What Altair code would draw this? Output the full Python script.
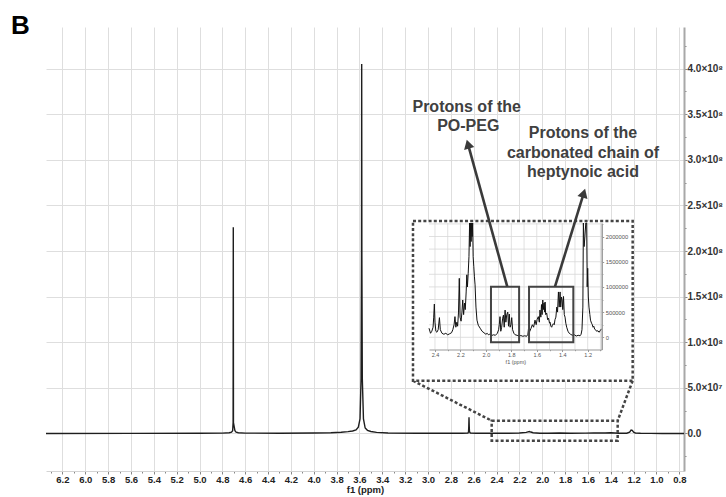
import altair as alt
import pandas as pd

# ---------------- data ----------------
main_ppm = [6.344, 5.60, 5.00, 4.80, 4.74, 4.72, 4.71, 4.706, 4.7055, 4.7045, 4.7035, 4.703, 4.69, 4.68,
            4.66, 4.60, 4.30, 4.00, 3.85, 3.76, 3.70, 3.66, 3.63, 3.61, 3.595, 3.586, 3.582, 3.5805,
            3.579, 3.575, 3.565, 3.55, 3.53, 3.50, 3.45, 3.35, 3.10, 2.80, 2.70, 2.650, 2.645, 2.643,
            2.641, 2.639, 2.637, 2.63, 2.58, 2.45, 2.30, 2.20, 2.14, 2.125, 2.113, 2.10, 2.08, 2.02,
            1.95, 1.85, 1.75, 1.62, 1.55, 1.45, 1.40, 1.33, 1.26, 1.235, 1.222, 1.212, 1.200, 1.185,
            1.14, 1.05, 0.95, 0.759]
main_int = [0, 1e5, 2e5, 4e5, 8e5, 1.5e6, 3e6, 1.2e7, 1.0e8, 2.26e8, 1.0e8, 1.2e7, 3e6, 1.5e6,
            8e5, 4e5, 3e5, 5e5, 9e5, 1.4e6, 2.0e6, 2.8e6, 4e6, 7e6, 1.6e7, 6e7, 2.0e8, 4.05e8,
            2.0e8, 6e7, 1.6e7, 6e6, 3.5e6, 2.2e6, 1.2e6, 6e5, 3e5, 2e5, 3e5, 6e5, 2e6, 8e6,
            1.78e7, 8e6, 2e6, 6e5, 3e5, 2e5, 3e5, 6e5, 1.2e6, 1.8e6, 2.2e6, 1.6e6, 8e5, 3e5,
            2e5, 5e5, 2e5, 4e5, 7e5, 5e5, 8e5, 2e5, 3e5, 1.5e6, 3.8e6, 3.5e6, 1.5e6, 6e5,
            3e5, 1e5, 0, 0]

inset_ppm = [2.447, 2.435, 2.425, 2.415, 2.41, 2.405, 2.400, 2.393, 2.385, 2.375, 2.365, 2.358, 2.345,
             2.33, 2.315, 2.30, 2.285, 2.27, 2.26, 2.25, 2.243, 2.236, 2.228, 2.222, 2.215, 2.209,
             2.203, 2.195, 2.188, 2.182, 2.175, 2.168, 2.162, 2.155, 2.150, 2.145, 2.139, 2.133,
             2.128, 2.124, 2.120, 2.116, 2.112, 2.108, 2.104, 2.100, 2.095, 2.09, 2.085, 2.078,
             2.07, 2.06, 2.045, 2.03, 2.015, 2.0, 1.99, 1.98, 1.97, 1.955, 1.94, 1.925, 1.91,
             1.90, 1.895, 1.889, 1.883, 1.876, 1.868, 1.862, 1.856, 1.849, 1.843, 1.836, 1.828,
             1.822, 1.816, 1.81, 1.803, 1.797, 1.79, 1.78, 1.77, 1.755, 1.74, 1.725, 1.71, 1.695,
             1.68, 1.67, 1.666, 1.655, 1.645, 1.635, 1.625, 1.614, 1.605, 1.597, 1.588, 1.58,
             1.575, 1.568, 1.563, 1.558, 1.553, 1.548, 1.543, 1.539, 1.535, 1.53, 1.522, 1.515,
             1.508, 1.5, 1.496, 1.489, 1.483, 1.477, 1.47, 1.463, 1.457, 1.45, 1.443, 1.437,
             1.43, 1.424, 1.417, 1.412, 1.406, 1.401, 1.396, 1.39, 1.384, 1.378, 1.372, 1.365,
             1.355, 1.345, 1.335, 1.32, 1.305, 1.29, 1.275, 1.26, 1.252, 1.245, 1.238, 1.234,
             1.228, 1.222, 1.215, 1.208, 1.204, 1.200, 1.195, 1.19, 1.183, 1.178, 1.17, 1.165,
             1.158, 1.152, 1.145, 1.138, 1.13, 1.12, 1.11, 1.10, 1.09]
inset_int = [1.8e5, 8e4, 1.2e5, 2e5, 4e5, 6.6e5, 3e5, 1.2e5, 1.0e5, 1.5e5, 3.9e5, 1.5e5, 8e4,
             6e4, 8e4, 5e4, 7e4, 9e4, 1.5e5, 2.5e5, 4.1e5, 2e5, 3e5, 2.2e5, 5e5, 1.17e6,
             4e5, 3.2e5, 5e5, 7.4e5, 4.5e5, 6.8e5, 5.5e5, 9e5, 1.24e6, 1.0e6, 1.27e6, 1.6e6,
             2.4e6, 1.8e6, 2.5e6, 1.9e6, 2.6e6, 2.0e6, 2.6e6, 1.6e6, 1.4e6, 1.2e6, 1.04e6, 6e5,
             3.4e5, 2.4e5, 1.8e5, 1.2e5, 9e4, 6e4, 8e4, 5e4, 6e4, 3.5e4, 5e4, 4e4, 8e4,
             1.5e5, 2.5e5, 4.1e5, 1.2e5, 2e5, 3.8e5, 4.4e5, 2e5, 5.4e5, 3e5, 4.5e5, 5.0e5,
             2.2e5, 4.6e5, 2e5, 2.5e5, 3.9e5, 1.5e5, 8e4, 5e4, 4e4, 2.5e4, 3.5e4, 2e4, 3e4,
             2e4, 6e4, 1.5e5, 1.2e5, 1.8e5, 2.5e5, 2e5, 3.4e5, 2.5e5, 3.6e5, 4.1e5, 3e5,
             5.4e5, 4.0e5, 6.5e5, 4.5e5, 7.4e5, 5.5e5, 6.8e5, 5e5, 7e5, 4.5e5, 4.8e5, 3.5e5,
             3.8e5, 2.8e5, 3e5, 2.2e5, 2e5, 2.4e5, 2.7e5, 2.5e5, 3.5e5, 4e5, 6e5, 5e5,
             9e5, 6e5, 9.0e5, 6e5, 8e5, 7.4e5, 5.5e5, 8.1e5, 4.5e5, 4e5, 2.8e5, 2e5,
             1.2e5, 8e4, 6e4, 4e4, 5e4, 2.5e4, 4e4, 3e4, 6e4, 1.5e5, 6e5, 2.6e6,
             1.8e6, 2.0e6, 2.3e6, 2.6e6, 1.0e6, 1.37e6, 8e5, 6e5, 4.5e5, 3.4e5, 2.8e5, 2.6e5,
             2.0e5, 2.2e5, 1.6e5, 1.5e5, 1.2e5, 1.3e5, 1.0e5, 1.4e5, 1.7e5]

main_x_ticks = [round(6.3 - 0.1 * i, 1) for i in range(56)]
main_y_ticks = [-2.5e7 + 2.5e7 * i for i in range(19)]
inset_x_ticks = [round(2.4 - 0.1 * i, 1) for i in range(14)]
inset_y_ticks = [2.5e5 * i for i in range(10)]

labels_1 = ["Protons of the", "PO-PEG"]
labels_2 = ["Protons of the", "carbonated chain of", "heptynoic acid"]

# ---------------- layout constants ----------------
W, H = 638, 444
X_DOM = [6.344, 0.759]
Y_DOM = [-4.11e7, 4.455e8]
IX_DOM = [2.447, 1.09]
IY_DOM = [-2.42e5, 2.268e6]
IX_RANGE = [383, 555.7]
IY_RANGE = [322.5, 196]
FONT = "Liberation Sans"
DOT = "#444444"


def xs():
    return alt.Scale(domain=X_DOM, nice=False, zero=False)


def ys():
    return alt.Scale(domain=Y_DOM, nice=False, zero=False)


def ixs():
    return alt.Scale(domain=IX_DOM, range=IX_RANGE, nice=False, zero=False)


def iys():
    return alt.Scale(domain=IY_DOM, range=IY_RANGE, nice=False, zero=False, clamp=True)


major_x = "abs(round(datum.value * 10)) % 2 == 0"
major_y = "abs(round(datum.value / 2.5e7)) % 2 == 0"
y_label = (f"{major_y} ? (datum.value == 0 ? '0.0' : datum.value < 1e8 ? "
           "format(datum.value / 1e7, '.1f') + '×10⁷' : format(datum.value / 1e8, '.1f') + '×10⁸') : ''")

x_axis = alt.Axis(
    orient="bottom", values=main_x_ticks,
    labelExpr=f"{major_x} ? format(datum.value, '.1f') : ''",
    tickSize={"condition": {"test": major_x, "value": 3}, "value": 2},
    gridOpacity={"condition": {"test": major_x, "value": 1}, "value": 0},
    grid=True, gridColor="#dedede", gridWidth=1,
    labelFont=FONT, labelFontSize=9.5, labelFontWeight="bold", labelColor="#222222",
    labelPadding=0, labelOverlap=False, labelFlush=False,
    tickColor="#888888", domainColor="#d4d4d4",
    title="f1 (ppm)", titleFont=FONT, titleFontSize=9.5, titleFontWeight="bold",
    titleColor="#222222", titlePadding=1,
)
y_axis = alt.Axis(
    orient="right", values=main_y_ticks, labelExpr=y_label,
    tickSize={"condition": {"test": major_y, "value": 3}, "value": 2},
    gridOpacity={"condition": {"test": major_y, "value": 1}, "value": 0},
    grid=True, gridColor="#dedede", gridWidth=1,
    labelFont=FONT, labelFontSize=10, labelFontWeight="bold", labelColor="#333333",
    labelPadding=0, labelOverlap=False, labelFlush=False,
    tickColor="#888888", domainColor="#a8a8a8", domainWidth=2, title=None,
)

# ---------------- main panel ----------------
main_df = pd.DataFrame({"ppm": main_ppm, "intensity": main_int})
spectrum = alt.Chart(main_df).mark_line(color="#1e1e1e", strokeWidth=1.4).encode(
    x=alt.X("ppm:Q", scale=xs(), axis=x_axis),
    y=alt.Y("intensity:Q", scale=ys(), axis=y_axis),
)

zoom_box_df = pd.DataFrame({"x1": [2.4425], "x2": [1.3396], "y1": [1.403e7], "y2": [-7.89e6]})
zoom_box = alt.Chart(zoom_box_df).mark_rect(fillOpacity=0, stroke=DOT, strokeWidth=2.5,
                                            strokeDash=[3, 2.2]).encode(
    x=alt.X("x1:Q", scale=xs(), axis=None), x2="x2:Q",
    y=alt.Y("y1:Q", scale=ys(), axis=None), y2="y2:Q")

conn_df = pd.DataFrame({"x1": [3.1314, 1.2083], "y1": [5.786e7, 5.786e7],
                        "x2": [2.4425, 1.3396], "y2": [1.403e7, 1.403e7]})
connectors = alt.Chart(conn_df).mark_rule(color=DOT, strokeWidth=2.5, strokeDash=[3, 2.2]).encode(
    x=alt.X("x1:Q", scale=xs(), axis=None), x2="x2:Q",
    y=alt.Y("y1:Q", scale=ys(), axis=None), y2="y2:Q")

inset_bg_df = pd.DataFrame({"x1": [3.1314], "x2": [1.2083], "y1": [2.3288e8], "y2": [5.786e7]})
inset_bg = alt.Chart(inset_bg_df).mark_rect(color="white").encode(
    x=alt.X("x1:Q", scale=xs(), axis=None), x2="x2:Q",
    y=alt.Y("y1:Q", scale=ys(), axis=None), y2="y2:Q")

# ---------------- inset ----------------
ix_axis = alt.Axis(
    orient="bottom", offset=IY_RANGE[0] - H, values=inset_x_ticks, zindex=2,
    labelExpr=f"{major_x} ? format(datum.value, '.1f') : ''",
    tickSize={"condition": {"test": major_x, "value": 2}, "value": 1.2},
    grid=False, labelFont=FONT, labelFontSize=5.5, labelColor="#555555",
    labelPadding=1, labelOverlap=False, labelFlush=False,
    tickColor="#999999", domainColor="#999999", domainWidth=1,
    title="f1 (ppm)", titleFont=FONT, titleFontSize=5.5, titleFontWeight="normal",
    titleColor="#555555", titlePadding=1,
)
iy_axis = alt.Axis(
    orient="right", offset=IX_RANGE[1] - W, values=inset_y_ticks, zindex=2,
    labelExpr="datum.value % 500000 == 0 ? format(datum.value, 'd') : ''",
    tickSize={"condition": {"test": "datum.value % 500000 == 0", "value": 2}, "value": 1.2},
    grid=False, labelFont=FONT, labelFontSize=5.8, labelColor="#555555",
    labelPadding=1.5, labelOverlap=False, labelFlush=False,
    tickColor="#999999", domainColor="#9a9a9a", domainWidth=1.5, title=None,
)

vgrid_df = pd.DataFrame({"gx": inset_x_ticks, "lo": IY_DOM[0], "hi": IY_DOM[1]})
hgrid_df = pd.DataFrame({"gy": inset_y_ticks, "lo": IX_DOM[0], "hi": IX_DOM[1]})
vgrid = alt.Chart(vgrid_df).mark_rule(color="#d8d8d8", strokeWidth=0.8).encode(
    x=alt.X("gx:Q", scale=ixs(), axis=None),
    y=alt.Y("lo:Q", scale=iys(), axis=None), y2="hi:Q")
hgrid = alt.Chart(hgrid_df).mark_rule(color="#d8d8d8", strokeWidth=0.8).encode(
    y=alt.Y("gy:Q", scale=iys(), axis=None),
    x=alt.X("lo:Q", scale=ixs(), axis=None), x2="hi:Q")

inset_df = pd.DataFrame({"ppm": inset_ppm, "intensity": inset_int})
inset_line = alt.Chart(inset_df).mark_line(color="#111111", strokeWidth=1).encode(
    x=alt.X("ppm:Q", scale=ixs(), axis=ix_axis),
    y=alt.Y("intensity:Q", scale=iys(), axis=iy_axis))

ibox_df = pd.DataFrame({"x1": [1.96, 1.661], "x2": [1.739, 1.313],
                        "y1": [1.004e6, 1.004e6], "y2": [-9.9e4, -9.9e4]})
inset_boxes = alt.Chart(ibox_df).mark_rect(fillOpacity=0, stroke="#444444", strokeWidth=2).encode(
    x=alt.X("x1:Q", scale=ixs(), axis=None), x2="x2:Q",
    y=alt.Y("y1:Q", scale=iys(), axis=None), y2="y2:Q")

# ---------------- annotations (same mapping as main panel) ----------------
border_df = pd.DataFrame({"x1": [3.1314], "x2": [1.2083], "y1": [2.3288e8], "y2": [5.786e7]})
border = alt.Chart(border_df).mark_rect(fillOpacity=0, stroke=DOT, strokeWidth=2.5,
                                        strokeDash=[3, 2.2]).encode(
    x=alt.X("x1:Q", scale=xs(), axis=None), x2="x2:Q",
    y=alt.Y("y1:Q", scale=ys(), axis=None), y2="y2:Q")

arrow_df = pd.DataFrame({"x1": [2.306, 1.8884], "y1": [1.6088e8, 1.6088e8],
                         "x2": [2.650, 1.6364], "y2": [3.1715e8, 2.6345e8],
                         "ang": [344.6, 17.1]})
arrow_lines = alt.Chart(arrow_df).mark_rule(color="#3a3a3a", strokeWidth=2.6).encode(
    x=alt.X("x1:Q", scale=xs(), axis=None), x2="x2:Q",
    y=alt.Y("y1:Q", scale=ys(), axis=None), y2="y2:Q")
arrow_heads = alt.Chart(arrow_df).mark_point(shape="triangle-up", filled=True, size=110,
                                             color="#3a3a3a", opacity=1).encode(
    x=alt.X("x2:Q", scale=xs(), axis=None),
    y=alt.Y("y2:Q", scale=ys(), axis=None),
    angle=alt.Angle("ang:Q", scale=None))

text_df = pd.DataFrame({
    "label": labels_1 + labels_2,
    "x": [2.6614, 2.6474, 1.6434, 1.6434, 1.6434],
    "y": [3.5266e8, 3.3151e8, 3.2350e8, 3.0225e8, 2.8143e8],
})
texts = alt.Chart(text_df).mark_text(font=FONT, fontSize=16, fontWeight="bold", color="#404040",
                                     align="center", baseline="alphabetic").encode(
    x=alt.X("x:Q", scale=xs(), axis=None),
    y=alt.Y("y:Q", scale=ys(), axis=None),
    text="label:N")

panel_df = pd.DataFrame({"t": ["B"]})
panel_label = alt.Chart(panel_df).mark_text(font=FONT, fontSize=26, fontWeight="bold", color="black",
                                            align="left", baseline="alphabetic").encode(
    x=alt.value(-35), y=alt.value(7.3), text="t:N")

chart = alt.layer(
    spectrum, zoom_box, connectors, inset_bg,
    vgrid, hgrid, inset_line, inset_boxes,
    border, arrow_lines, arrow_heads, texts, panel_label,
).resolve_scale(
    x="independent", y="independent"
).properties(
    width=W, height=H,
    padding={"left": 46, "top": 27, "right": 42, "bottom": 26},
    autosize=alt.AutoSizeParams(type="none"),
).configure_view(stroke=None)

chart.save("out.html", embed_options={"renderer": "svg", "actions": False})
